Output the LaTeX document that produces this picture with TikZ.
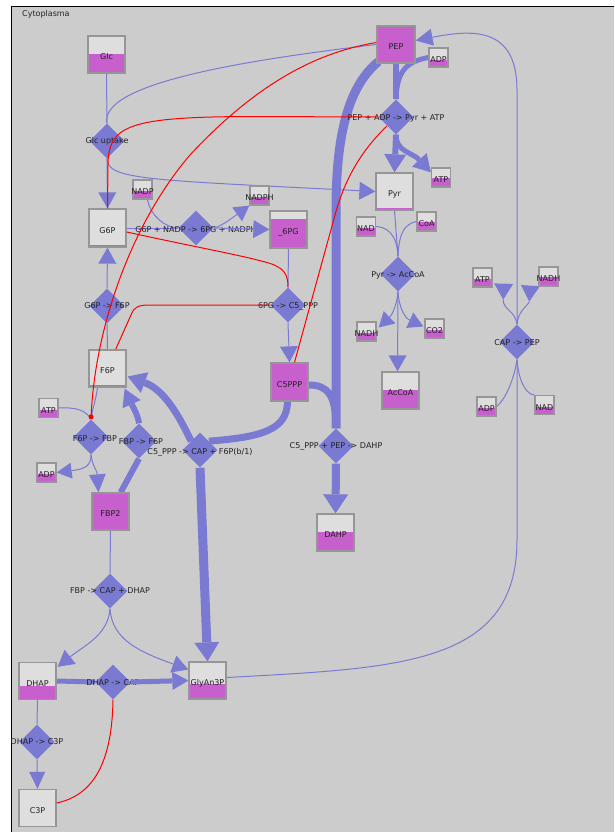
\documentclass[tikz,border=0pt]{standalone}
\usepackage{fontspec}
\setmainfont{DejaVu Sans}
\usetikzlibrary{shapes.geometric,arrows.meta,calc}
\definecolor{bggray}{RGB}{204,204,204}
\definecolor{boxgray}{RGB}{150,150,150}
\definecolor{boxtop}{RGB}{222,222,222}
\definecolor{mag}{RGB}{199,95,204}
\definecolor{bl}{RGB}{122,122,210}
\definecolor{txt}{RGB}{34,34,34}
\newcommand\lblfont{\fontsize{8}{9}\selectfont}
\pgfdeclarelayer{bg}
\pgfdeclarelayer{edgelayer}
\pgfdeclarelayer{lateedges}
\pgfdeclarelayer{boxlayer}
\pgfdeclarelayer{redlayer}
\pgfsetlayers{bg,edgelayer,main,lateedges,boxlayer,redlayer}
\tikzset{
 species/.style={draw=boxgray, line width=1.3pt, fill=boxtop, inner sep=0pt,
   path picture={\fill[mag] (path picture bounding box.south west) rectangle ($(path picture bounding box.south east)+(0pt,#1pt)$);}},
 splabel/.style={font=\lblfont, text=txt, inner sep=0pt},
 rxn/.style={diamond, aspect=1, fill=bl, draw=none, minimum width=35pt, minimum height=35pt, inner sep=0pt},
 rlabel/.style={font=\lblfont, text=txt, inner sep=0pt},
 flow/.style={draw=bl, line width=1pt},
 thinarr/.style={-{Triangle[width=18pt,length=16pt,line width=0pt]}},
 bigarr/.style={-{Triangle[width=25pt,length=19pt,line width=0pt]}},
 modif/.style={draw=red, line width=1pt},
}
\newcommand\spc[7]{%
 \node[species=#6, minimum width=#4pt, minimum height=#5pt] (#1) at (#2,#3) {};
 \node[splabel] at ([yshift=-2.5pt]#1.center) {#7};}
\begin{document}
\begin{tikzpicture}[x=1pt,y=-1pt]
\useasboundingbox (0,0) rectangle (614,832);
\begin{pgfonlayer}{bg}
\fill[white] (0,0) rectangle (614,832);
\fill[bggray] (11.5,6.5) rectangle (614,832);
\draw[black, line width=1.3pt] (11.5,832) -- (11.5,6.5) -- (614,6.5);
\end{pgfonlayer}
\node[anchor=west, font=\lblfont, text=txt, inner sep=0pt] (cyto) at (22,14) {Cytoplasma};

% reactions
\node[rxn] (GU) at (107,141) {};
\node[rxn] (GPD) at (196,228) {};
\node[rxn] (GF) at (107,306) {};
\node[rxn] (PGC) at (288,305) {};
\node[rxn] (PK) at (396,117) {};
\node[rxn] (PDH) at (398,274) {};
\node[rxn] (CP) at (517,342) {};
\node[rxn] (PFK) at (91,437) {};
\node[rxn] (FBPase) at (139,441) {};
\node[rxn] (TK) at (200,450) {};
\node[rxn] (DS) at (336,446) {};
\node[rxn] (ALD) at (110,591) {};
\node[rxn] (TPI) at (113,682) {};
\node[rxn] (DC) at (37,742) {};

\node[rlabel] at (107,141) {Glc uptake};
\node[rlabel] at (196,230) {G6P + NADP -> 6PG + NADPH};
\node[rlabel] at (107,306) {G6P -> F6P};
\node[rlabel] at (288,306) {6PG -> C5\_PPP};
\node[rlabel] at (396,118) {PEP + ADP -> Pyr + ATP};
\node[rlabel] at (398,275) {Pyr -> AcCoA};
\node[rlabel] at (517,343) {CAP -> PEP};
\node[rlabel] at (95,439) {F6P -> FBP};
\node[rlabel] at (141,442) {FBP -> F6P};
\node[rlabel] at (200,452) {C5\_PPP -> CAP + F6P(b/1)};
\node[rlabel] at (336,446) {C5\_PPP + PEP -> DAHP};
\node[rlabel] at (110,591) {FBP -> CAP + DHAP};
\node[rlabel] at (113,683) {DHAP -> CAP};
\node[rlabel] at (37,742) {DHAP -> C3P};

% species
\begin{pgfonlayer}{boxlayer}
\spc{Glc}{106.5}{54.5}{37}{37}{19}{Glc}
\spc{G6P}{107.5}{228}{37}{38}{2}{G6P}
\spc{NADP}{142.5}{189.5}{19}{19}{8}{NADP}
\spc{NADPH}{259.5}{195.5}{19}{19}{8}{NADPH}
\spc{SixPC}{288.5}{229.5}{37}{37}{29}{\_6PG}
\spc{PEP}{396}{44.5}{38}{37}{37}{PEP}
\spc{ADPt}{438.5}{57.5}{19}{19}{7}{ADP}
\spc{Pyr}{394.5}{191.5}{37}{37}{2}{Pyr}
\spc{ATPt}{441}{177.5}{19}{19}{9}{ATP}
\spc{NADp}{366}{226.5}{19}{19}{8}{NAD}
\spc{CoA}{426.5}{221.5}{19}{19}{9}{CoA}
\spc{NADHp}{366.5}{331.5}{19}{19}{8}{NADH}
\spc{CO2}{434.5}{328.5}{19}{19}{8}{CO2}
\spc{AcCoA}{400.5}{390.5}{37}{37}{19}{AcCoA}
\spc{ATPr}{482.5}{277.5}{19}{19}{8}{ATP}
\spc{NADHr}{548.5}{276.5}{19}{19}{9}{NADH}
\spc{ADPr}{486.5}{406.5}{19}{19}{8}{ADP}
\spc{NADr}{544.5}{405}{19}{19}{8}{NAD}
\spc{CSPPP}{289.5}{382}{37}{38}{38}{C5PPP}
\spc{F6P}{107.5}{368.5}{37}{37}{2}{F6P}
\spc{ATPl}{48.5}{408}{19}{19}{8}{ATP}
\spc{ADPl}{46.5}{472.5}{19}{19}{8}{ADP}
\spc{FBP2}{110.5}{511.5}{37}{37}{37}{FBP2}
\spc{DAHP}{335.5}{532.5}{37}{37}{19}{DAHP}
\spc{DHAP}{37.5}{681}{37}{37}{14}{DHAP}
\spc{GlyAn3P}{207.5}{680.5}{37}{37}{15}{GlyAn3P}
\spc{C3P}{37.5}{808}{37}{37}{0}{C3P}
\end{pgfonlayer}

% blue edges
\begin{pgfonlayer}{edgelayer}
\draw[flow, line width=6pt] (PEP.south) -- (PK.north);
\draw[flow, line width=5pt] (ADPt.west) .. controls (405,62) and (397,72) .. (PK.north);
\draw[flow, line width=6pt, -{Triangle[width=22pt,length=18pt,line width=0pt]}] (PK.south) -- (Pyr.north);
\draw[flow, line width=5pt, -{Triangle[width=20pt,length=17pt,line width=0pt]}] (PK.south) .. controls (396,152) and (412,152) .. ($(ATPt.north west)+(0,5)$);
\draw[flow, line width=9pt] ($(PEP.south west)+(2,-2)$) .. controls (350,85) and (336,130) .. (336,210) -- (DS.north);
\draw[flow, line width=7pt] ($(CSPPP.east)+(0,3)$) .. controls (328,385) and (336,395) .. (DS.north);
\draw[flow, line width=8pt, bigarr] (DS.south) -- (DAHP.north);
\draw[flow, line width=7pt] ($(CSPPP.south)+(-2,0)$) .. controls (287,430) and (262,437) .. (TK.north east);
\draw[flow, line width=7pt, -{Triangle[width=22pt,length=18pt,line width=0pt]}] (TK.north west) .. controls (180,418) and (165,390) .. ($(F6P.east)+(1,8)$);
\draw[flow, line width=6pt] ($(FBP2.north east)+(-9,0)$) -- (FBPase.south);
\draw[flow, line width=6pt, -{Triangle[width=20pt,length=17pt,line width=0pt]}] (FBPase.north) .. controls (138,415) and (132,405) .. ($(F6P.south east)+(-2,1)$);
\draw[flow, line width=9pt, bigarr] (TK.south) -- (GlyAn3P.north);
\draw[flow, line width=5pt] (DHAP.east) -- (TPI.west);

\draw[flow] (Glc.south) -- (GU.north);
\draw[flow, thinarr] (GU.south) -- (G6P.north);
\draw[flow] (PEP.west) .. controls (230,62) and (100,85) .. (GU.north);
\draw[flow, thinarr] (GU.south) .. controls (107,180) and (150,180) .. (Pyr.west);
\draw[flow] (G6P.east) -- (GPD.west);
\draw[flow] ($(NADP.south)+(5,0)$) .. controls (150,215) and (165,228) .. (GPD.west);
\draw[flow] (SixPC.south) -- (PGC.north);
\draw[flow, thinarr] (PGC.south) -- (CSPPP.north);
\draw[flow] (F6P.north) -- (GF.south);
\draw[flow, thinarr] (GF.north) -- (G6P.south);
\draw[flow] ($(F6P.south)+(-10,0)$) .. controls (96,400) and (92,410) .. (PFK.north);
\draw[flow] (ATPl.east) .. controls (75,407) and (86,410) .. (PFK.north);
\draw[flow, -{Triangle[width=16pt,length=15pt,line width=0pt]}] (PFK.south) .. controls (91,466) and (85,469) .. (ADPl.east);
\draw[flow, -{Triangle[width=17pt,length=18pt,line width=0pt]}] (PFK.south) .. controls (93,468) and (97,470) .. ($(FBP2.north)+(-12,0)$);
\draw[flow] (FBP2.south) -- (ALD.north);
\draw[flow, thinarr] (ALD.south) .. controls (108,635) and (85,645) .. ($(DHAP.north east)+(1,5)$);
\draw[flow, thinarr] (ALD.south) .. controls (112,640) and (140,652) .. ($(GlyAn3P.west)+(0,-11)$);
\draw[flow] (DHAP.south) -- (DC.north);
\draw[flow, -{Triangle[width=16pt,length=17pt,line width=0pt]}] (DC.south) -- (C3P.north);
\draw[flow] ($(GlyAn3P.east)+(0,-3)$) .. controls (400,668) and (517,665) .. (517,540) -- (CP.south);
\draw[flow, -{Triangle[width=17pt,length=17pt,line width=0pt]}] (CP.north) -- (517,90) .. controls (517,25) and (470,30) .. ($(PEP.east)+(0,-4)$);
\draw[flow, -{Triangle[reversed,width=19pt,length=16pt,line width=0pt]}] (CP.north) .. controls (515,310) and (503,310) .. ($(ATPr.south east)+(11,-4)$);
\draw[flow, -{Triangle[reversed,width=19pt,length=16pt,line width=0pt]}] (CP.north) .. controls (518,310) and (529,305) .. ($(NADHr.south west)+(-8,-1)$);
\draw[flow] (ADPr.east) .. controls (505,400) and (514,380) .. (CP.south);
\draw[flow] (NADr.north west) .. controls (528,395) and (519,385) .. (CP.south);
\draw[flow] (Pyr.south) -- (PDH.north);
\draw[flow] (NADp.east) .. controls (385,227) and (397,232) .. (PDH.north);
\draw[flow] (CoA.west) .. controls (405,224) and (399,232) .. (PDH.north);
\draw[flow, -{Triangle[width=17pt,length=15pt,line width=0pt]}] (PDH.south) .. controls (397,305) and (392,315) .. ($(NADHp.east)+(2,-4)$);
\draw[flow, -{Triangle[width=17pt,length=15pt,line width=0pt]}] (PDH.south) .. controls (399,308) and (405,318) .. ($(CO2.west)+(-1,-2)$);
\draw[flow, thinarr] (PDH.south) -- ($(AcCoA.north)+(-3,0)$);
\end{pgfonlayer}

\begin{pgfonlayer}{lateedges}
\draw[flow, -{Triangle[width=17pt,length=15pt,line width=0pt]}] (GPD.east) .. controls (222,226) and (232,218) .. (NADPH.south west);
\draw[flow, thinarr] (GPD.east) -- (SixPC.west);
\draw[flow, line width=5pt, -{Triangle[width=18pt,length=16pt,line width=0pt]}] (TPI.east) -- (GlyAn3P.west);
\end{pgfonlayer}

% red modifier lines
\begin{pgfonlayer}{redlayer}
\draw[modif, -{Circle[length=5pt]}] ($(PEP.west)+(0,-2)$) .. controls (320,52) and (260,80) .. (190,155) .. controls (130,225) and (95,330) .. (PFK.north);
\draw[modif] (G6P.north) -- (108,165) .. controls (108,125) and (130,117) .. (250,116.5) -- (PK.west);
\draw[modif] ($(G6P.east)+(0,4)$) .. controls (200,248) and (240,255) .. (265,262) .. controls (285,267) and (288,275) .. (PGC.north);
\draw[modif] ($(F6P.north east)+(-11,0)$) -- (131,315) .. controls (134,307) and (138,305) .. (150,305) -- (PGC.west);
\draw[modif] ($(CSPPP.north)+(5,0)$) -- (335,215) .. controls (345,178) and (362,150) .. (PK.south west);
\draw[modif] (TPI.south) .. controls (112,760) and (95,795) .. ($(C3P.east)+(0,-5)$);
\end{pgfonlayer}
\end{tikzpicture}
\end{document}
